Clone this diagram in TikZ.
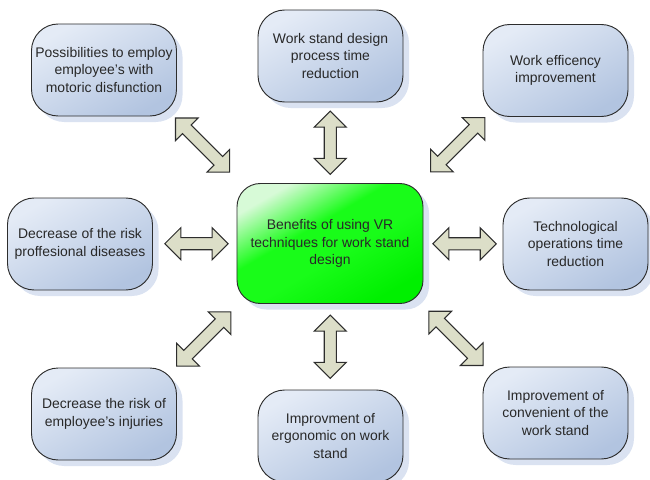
\documentclass[tikz,border=0pt]{standalone}
\usepackage{fontspec}
\setmainfont{Liberation Sans}
\usetikzlibrary{calc,shapes.arrows,shadows}

\definecolor{boxtop}{RGB}{228,235,246}
\definecolor{boxbot}{RGB}{178,196,224}
\definecolor{greentop}{RGB}{215,250,215}
\definecolor{greenmid}{RGB}{25,252,25}
\definecolor{greenbot}{RGB}{0,240,0}
\definecolor{shadowblue}{RGB}{218,226,241}
\definecolor{arrowfill}{RGB}{220,222,200}
\definecolor{edgegray}{RGB}{45,45,45}
\definecolor{textgray}{RGB}{40,40,40}

\pgfdeclareverticalshading{vrgreen}{100bp}{color(0bp)=(greenbot); color(25bp)=(greenbot);
	color(45bp)=(greenmid); color(58bp)=(greenmid); color(75bp)=(greentop); color(100bp)=(greentop)}

\begin{document}
\begin{tikzpicture}[x=0.03cm, y=-0.03cm,
	benefit/.style={draw=edgegray, line width=0.8pt, rounded corners=0.8cm,
		minimum width=4.35cm, minimum height=2.76cm, align=center,
		text=textgray, font=\fontsize{11.9}{14.9}\selectfont,
		top color=boxtop, bottom color=boxbot, shading angle=30,
		drop shadow={shadow xshift=0.18cm, shadow yshift=-0.18cm, fill=shadowblue, opacity=1}},
	mainbox/.style={benefit, rounded corners=0.7cm, minimum width=5.58cm, minimum height=3.6cm,
		shading=vrgreen, shading angle=30},
	dblarrow/.style={double arrow, draw=edgegray, line width=0.9pt, fill=arrowfill,
		inner sep=0.165cm, double arrow head extend=0.3cm, minimum height=1.9cm},
	diagarrow/.style={dblarrow, minimum height=2.3cm}]
	%%%%% START %%%%%
	\useasboundingbox (0,0) rectangle (650,479);
	
	\node[mainbox] (vr) at (330, 243.5) {Benefits of using VR\\techniques for work stand\\design};
	
	\node[benefit] (motoric) at (104, 70) {Possibilities to employ\\employee's with\\motoric disfunction};
	\node[benefit] (design) at (330.5, 56) {Work stand design\\process time\\reduction};
	\node[benefit] (efficency) at (555.5, 70.5) {Work efficency\\improvement};
	\node[benefit] (diseases) at (80, 244) {Decrease of the risk\\proffesional diseases};
	\node[benefit] (operations) at (575.5, 244) {Technological\\operations time\\reduction};
	\node[benefit] (injuries) at (104, 414) {Decrease the risk of\\employee's injuries};
	\node[benefit] (ergonomic) at (330.5, 436) {Improvment of\\ergonomic on work\\stand};
	\node[benefit] (convenient) at (555.5, 413) {Improvement of\\convenient of the\\work stand};
	
	% arrows between the boxes
	\node[diagarrow, rotate=-45] (a1) at ($(motoric.south east)!0.43!(vr.north west)$) {};
	\node[dblarrow, rotate=90] (a2) at ($(design.south)!0.5!(vr.north)$) {};
	\node[diagarrow, rotate=45] (a3) at ($(efficency.south west)!0.42!(vr.north east)$) {};
	\node[dblarrow] (a4) at ($(diseases.east)!0.52!(vr.west)$) {};
	\node[dblarrow] (a5) at ($(vr.east)!0.52!(operations.west)$) {};
	\node[diagarrow, rotate=45] (a6) at ($(injuries.north east)!0.45!(vr.south west)$) {};
	\node[dblarrow, rotate=90] (a7) at ($(vr.south)!0.5!(ergonomic.north)$) {};
	\node[diagarrow, rotate=-45] (a8) at ($(convenient.north west)!0.45!(vr.south east)$) {};
	%%%%% END %%%%%
\end{tikzpicture}
\end{document}
